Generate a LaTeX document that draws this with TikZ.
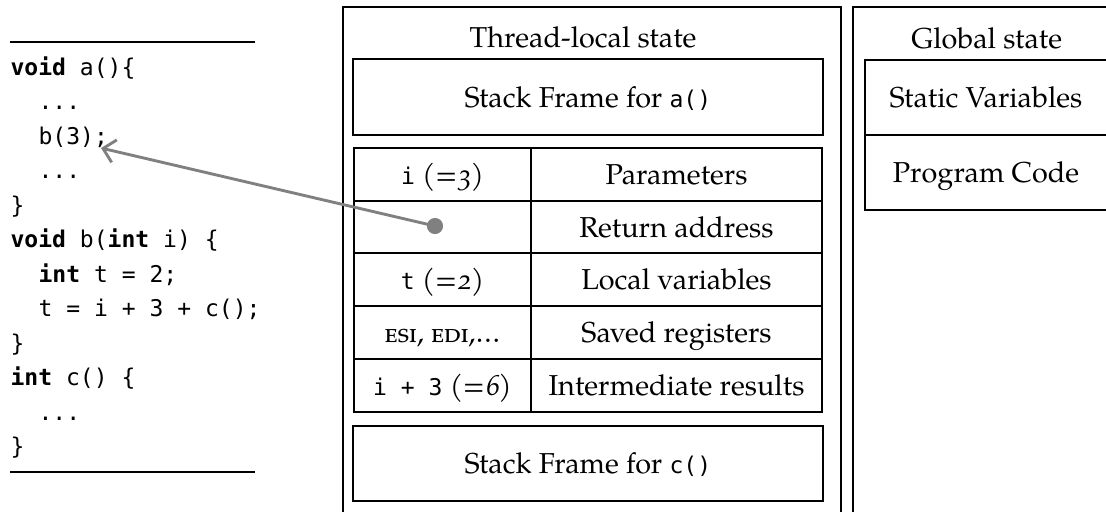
\documentclass[tikz,border=0pt]{standalone}
\usepackage{fontspec}
\setmainfont{TeX Gyre Pagella}[Numbers=OldStyle]
\setmonofont{DejaVu Sans Mono}[Scale=0.8]
\usetikzlibrary{fit,arrows.meta}

% text centred on a box, with its capitals centred vertically
\newcommand{\boxtext}[3]{\node[lab] (#1) at ([yshift=-3.5pt]#2.center) {#3};}

\begin{document}
\begin{tikzpicture}[x=0.3472pt, y=-0.3472pt,
  frame/.style={draw, line width=0.8pt, inner sep=0pt},
  lab/.style={anchor=base, inner sep=0pt},
  code/.style={anchor=base west, inner sep=0pt, font=\ttfamily},
  title/.style={anchor=base, inner sep=0pt},
  rule/.style={line width=0.45pt},
  ptr/.style={draw=gray, line width=1pt, -{Straight Barb[length=4pt,width=8pt]}}]
\useasboundingbox (0,0) rectangle (1106,511);
\clip (0,0) rectangle (1106,511);

% ---- source listing ----
\coordinate (rt1) at (10,42);  \coordinate (rt2) at (255,42);
\coordinate (rb1) at (10,472); \coordinate (rb2) at (255,472);
\draw[rule] (rt1) -- (rt2);
\draw[rule] (rb1) -- (rb2);
\node[code] (l1)   at (10,75)    {\textbf{void} a()\{};
\node[code] (l2)   at (38,109.5) {...};
\node[code] (call) at (38,144)   {b(3);};
\node[code] (l4)   at (38,178.5) {...};
\node[code] (l5)   at (10,213)   {\}};
\node[code] (l6)   at (10,247.5) {\textbf{void} b(\textbf{int} i) \{};
\node[code] (l7)   at (38,282)   {\textbf{int} t = 2;};
\node[code] (l8)   at (38,316.5) {t = i + 3 + c();};
\node[code] (l9)   at (10,351)   {\}};
\node[code] (l10)  at (10,385.5) {\textbf{int} c() \{};
\node[code] (l11)  at (38,420)   {...};
\node[code] (l12)  at (10,454.5) {\}};

% ---- thread-local state ----
\node[frame, fit={(343,7) (841,560)}] (thread) {};
\node[title] (ttitle) at (583,47) {Thread-local state};
\node[frame, fit={(352.7,59) (823,135)}] (fa) {};
\boxtext{fat}{fa}{Stack Frame for \texttt{a()}}

\node[frame, fit={(354,148) (531,200.7)}]   (c11) {};
\node[frame, fit={(531,148) (822,200.7)}]   (c12) {};
\node[frame, fit={(354,200.7) (531,253.3)}] (c21) {};
\node[frame, fit={(531,200.7) (822,253.3)}] (c22) {};
\node[frame, fit={(354,253.3) (531,306)}]   (c31) {};
\node[frame, fit={(531,253.3) (822,306)}]   (c32) {};
\node[frame, fit={(354,306) (531,359.3)}]   (c41) {};
\node[frame, fit={(531,306) (822,359.3)}]   (c42) {};
\node[frame, fit={(354,359.3) (531,412)}]   (c51) {};
\node[frame, fit={(531,359.3) (822,412)}]   (c52) {};
\boxtext{t11}{c11}{\texttt{i} \textit{(=3)}}
\boxtext{t12}{c12}{Parameters}
\boxtext{t22}{c22}{Return address}
\boxtext{t31}{c31}{\texttt{t} \textit{(=2)}}
\boxtext{t32}{c32}{Local variables}
\boxtext{t41}{c41}{\textsc{esi, edi,}\dots}
\boxtext{t42}{c42}{Saved registers}
\boxtext{t51}{c51}{\texttt{i + 3} \textit{(=6)}}
\boxtext{t52}{c52}{Intermediate results}

\node[frame, fit={(352.7,425.7) (823,500.7)}] (fc) {};
\boxtext{fct}{fc}{Stack Frame for \texttt{c()}}

% ---- global state ----
\node[frame, fit={(853,7) (1119,560)}] (global) {};
\node[title] (gtitle) at (986.7,48) {Global state};
\node[frame, fit={(865,60) (1107,135)}]  (sv) {};
\node[frame, fit={(865,135) (1107,210)}] (pc) {};
\boxtext{svt}{sv}{Static Variables}
\boxtext{pct}{pc}{Program Code}

% ---- return address pointer ----
\node[circle, fill=gray, inner sep=0pt, minimum size=5.6pt] (ret) at (435,226) {};
\coordinate (callend) at ([xshift=-2.6pt, yshift=-1.4pt]call.base east);
\draw[ptr] (ret.center) -- (callend);
\end{tikzpicture}
\end{document}
